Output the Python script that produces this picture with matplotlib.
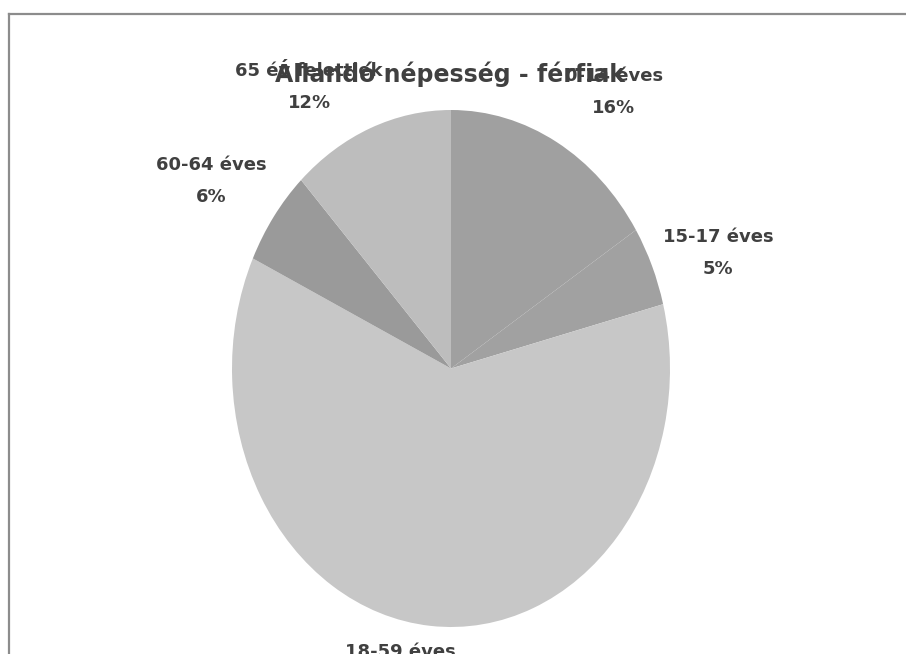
"""Pie chart: Állandó népesség - férfiak (permanent population, men)."""

import matplotlib

matplotlib.use("Agg")
import matplotlib.pyplot as plt
from matplotlib.lines import Line2D

# data
categories = ["0-14 éves", "15-17 éves", "18-59 éves", "60-64 éves", "65 év felettiek"]
shares = [16, 5, 61, 6, 12]
title = "Állandó népesség - férfiak"

# styling
slice_colors = ["#a0a0a0", "#a1a1a1", "#c7c7c7", "#9a9a9a", "#bdbdbd"]
text_color = "#404040"
font = ["Liberation Sans Narrow", "DejaVu Sans"]

# label anchors (figure pixels, from top-left) for each category
label_xy = [(614, 92), (718, 253), (400, 668), (211, 181), (309, 87)]

W, H = 906, 654
fig = plt.figure(figsize=(W / 100, H / 100), dpi=100)
fig.patch.set_facecolor("white")

# pie sits in an elliptical box, a bit taller than wide
left, top, right, bottom = 232, 110, 670, 627
ax = fig.add_axes([left / W, 1 - bottom / H, (right - left) / W, (bottom - top) / H])
ax.pie(
    shares,
    colors=slice_colors,
    startangle=90,
    counterclock=False,
    radius=1.0,
    wedgeprops=dict(linewidth=0),
)
ax.set_aspect("auto")
ax.set_xlim(-1, 1)
ax.set_ylim(-1, 1)
ax.axis("off")

# labels: category name over percentage
for name, val, (x, y) in zip(categories, shares, label_xy):
    fig.text(
        x / W, 1 - y / H, f"{name}\n{val}%",
        ha="center", va="center", fontsize=13, fontweight="bold",
        color=text_color, family=font, linespacing=2.0,
    )

fig.text(
    450 / W, 1 - 73 / H, title,
    ha="center", va="center", fontsize=17, fontweight="bold",
    color=text_color, family=font,
)

# chart frame (only top and left edges are inside the scan)
fig.add_artist(Line2D([9 / W, 9 / W], [0, 1 - 14 / H], color="#8c8c8c", linewidth=1.6))
fig.add_artist(Line2D([9 / W, 1], [1 - 14 / H, 1 - 14 / H], color="#8c8c8c", linewidth=1.6))

fig.savefig("out.png", dpi=100)
plt.close(fig)
